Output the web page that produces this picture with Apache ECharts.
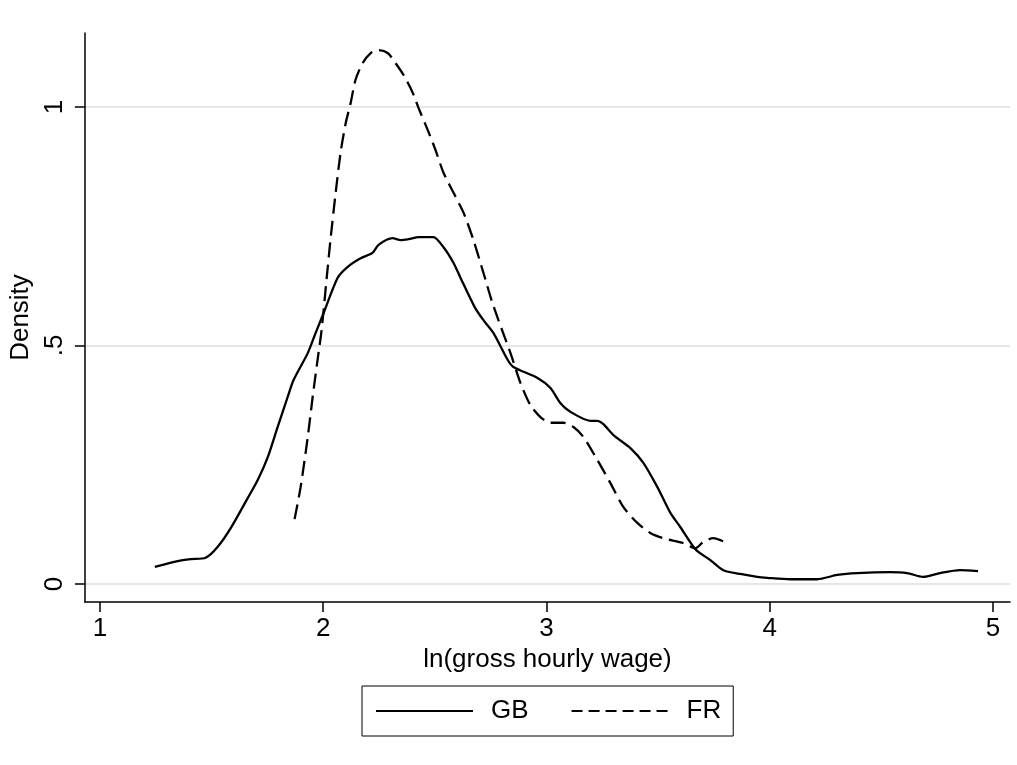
<!DOCTYPE html>
<html><head><meta charset="utf-8">
<script src="https://cdn.jsdelivr.net/npm/echarts@6/dist/echarts.min.js"></script>
<style>html,body{margin:0;padding:0;background:#fff}#c{width:1017px;height:765px}</style>
</head><body><div id="c"></div>
<script>
// GB kernel density (solid)
const gbX = [1.246,1.349,1.407,1.474,1.528,1.586,1.662,1.707,1.752,1.796,1.841,1.868,1.931,1.966,2.002,2.065,2.110,2.168,2.221,2.248,2.311,2.347,2.383,2.427,2.459,2.494,2.539,2.584,2.615,2.678,2.718,2.763,2.826,2.852,2.960,3.018,3.063,3.107,3.197,3.228,3.255,3.300,3.376,3.434,3.497,3.555,3.600,3.667,3.734,3.792,3.868,3.944,3.989,4.092,4.213,4.302,4.391,4.539,4.615,4.687,4.763,4.852,4.933];
const gbY = [0.036,0.048,0.052,0.055,0.078,0.117,0.180,0.218,0.266,0.329,0.392,0.428,0.484,0.526,0.568,0.642,0.665,0.683,0.694,0.711,0.725,0.721,0.723,0.727,0.727,0.727,0.706,0.673,0.642,0.581,0.553,0.526,0.470,0.455,0.432,0.411,0.379,0.361,0.342,0.342,0.335,0.312,0.285,0.254,0.203,0.149,0.119,0.073,0.050,0.029,0.021,0.015,0.013,0.010,0.010,0.019,0.023,0.025,0.023,0.015,0.023,0.029,0.027];
// FR kernel density (dashed)
const frX = [1.872,1.899,1.931,1.953,1.975,1.993,2.016,2.034,2.056,2.078,2.101,2.123,2.145,2.177,2.213,2.248,2.289,2.324,2.360,2.400,2.427,2.468,2.503,2.539,2.584,2.629,2.673,2.718,2.754,2.785,2.839,2.884,2.928,2.973,3.018,3.076,3.121,3.166,3.228,3.286,3.345,3.407,3.465,3.523,3.613,3.667,3.702,3.747,3.810];
const frY = [0.136,0.203,0.308,0.392,0.470,0.532,0.642,0.727,0.820,0.904,0.966,1.008,1.057,1.092,1.113,1.119,1.113,1.092,1.067,1.031,0.998,0.952,0.910,0.862,0.820,0.778,0.721,0.652,0.595,0.553,0.484,0.421,0.375,0.350,0.338,0.338,0.329,0.308,0.260,0.212,0.161,0.128,0.107,0.096,0.086,0.075,0.088,0.096,0.086];
const xTicks = [1,2,3,4,5];
const yTicks = [0,0.5,1];
const yTickText = ['0','.5','1'];
const seriesNames = ['GB','FR'];
const xTitle = 'ln(gross hourly wage)';
const yTitle = 'Density';

const FONT = '"Liberation Sans", Arial, Helvetica, sans-serif';
const zip = (a,b) => a.map((v,i)=>[v,b[i]]);
const chart = echarts.init(document.getElementById('c'), null, {renderer:'canvas'});
chart.setOption({
  animation:false,
  backgroundColor:'#fff',
  textStyle:{fontFamily:FONT,color:'#000'},
  grid:{left:84,right:7,top:33,bottom:163,containLabel:false},
  xAxis:{
    type:'value',min:0.933,max:5.076,
    name:xTitle,nameLocation:'middle',nameGap:37,
    nameTextStyle:{fontFamily:FONT,fontSize:26,color:'#000'},
    axisLine:{show:true,onZero:false,lineStyle:{color:'#000',width:1.5}},
    axisTick:{show:true,length:10,customValues:xTicks,lineStyle:{color:'#000',width:1.5}},
    axisLabel:{customValues:xTicks,margin:14,fontFamily:FONT,fontSize:26,color:'#000'},
    splitLine:{show:false}
  },
  yAxis:{
    type:'value',min:-0.0377,max:1.155,
    name:yTitle,nameLocation:'middle',nameGap:48,nameRotate:90,
    nameTextStyle:{fontFamily:FONT,fontSize:26,color:'#000'},
    axisLine:{show:true,onZero:false,lineStyle:{color:'#000',width:1.5}},
    axisTick:{show:true,length:10,customValues:yTicks,lineStyle:{color:'#000',width:1.5}},
    axisLabel:{customValues:yTicks,rotate:90,margin:17,fontFamily:FONT,fontSize:26,color:'#000',
      formatter:(v)=>{const i=yTicks.indexOf(+v);return i>=0?yTickText[i]:'';}},
    splitLine:{show:true,lineStyle:{color:'#e6e6e6',width:2}}
  },
  legend:{
    left:362,top:686,orient:'horizontal',
    padding:[12,12,12,13],
    borderColor:'#000',borderWidth:1,
    itemWidth:97,itemHeight:14,itemGap:42,
    itemStyle:{opacity:0},
    textStyle:{fontFamily:FONT,fontSize:26,color:'#000',padding:[0,0,0,13]},
    data:[
      {name:seriesNames[0]},
      {name:seriesNames[1],lineStyle:{type:[11,6]}}
    ]
  },
  series:[
    {name:seriesNames[0],type:'line',data:zip(gbX,gbY),symbol:'none',smooth:0.25,
     lineStyle:{color:'#000',width:2.3,type:'solid'},itemStyle:{color:'#000'}},
    {name:seriesNames[1],type:'line',data:zip(frX,frY),symbol:'none',smooth:0.25,
     lineStyle:{color:'#000',width:2.3,type:[15,7]},itemStyle:{color:'#000'}}
  ]
});
</script></body></html>
